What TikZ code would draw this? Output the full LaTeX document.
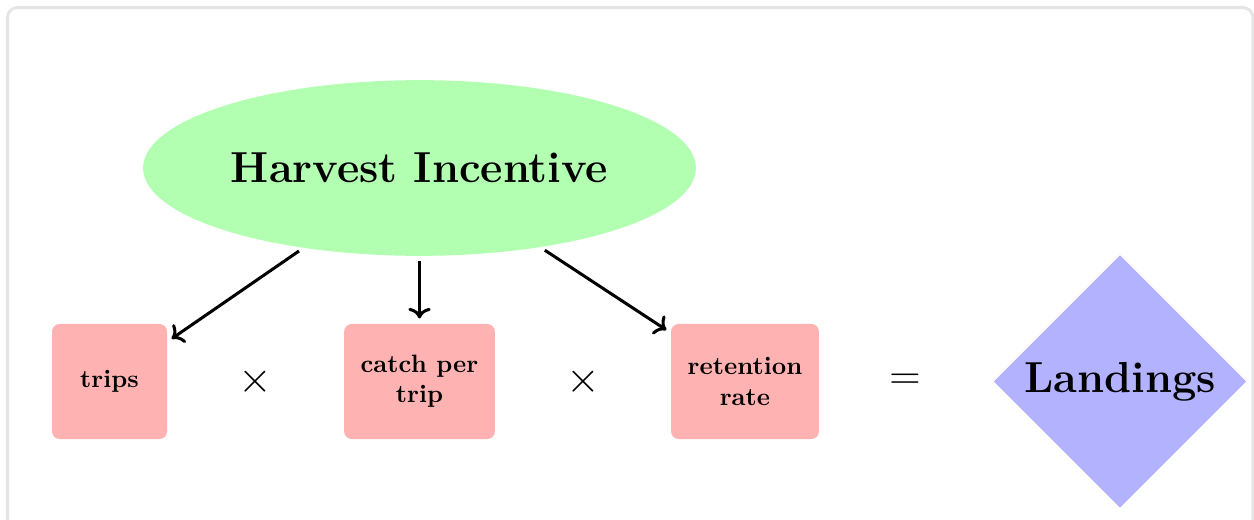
\documentclass[tikz,border=0pt]{standalone}
\usepackage{xcolor}
\usetikzlibrary{arrows.meta,positioning,shapes.geometric}

\begin{document}
\begin{tikzpicture}[
  source/.style={ellipse,fill=green!30,inner sep=0pt,
    minimum width=7.74cm,minimum height=2.46cm,font=\LARGE\bfseries},
  factor/.style={fill=red!30,rounded corners=3pt,inner sep=0pt,
    minimum height=1.61cm,align=center,font=\bfseries},
  result/.style={diamond,fill=blue!30,inner sep=0pt,
    minimum width=3.54cm,minimum height=3.54cm,font=\LARGE\bfseries},
  op/.style={font=\LARGE},
  arr/.style={->,very thick,black,shorten >=2pt,shorten <=2pt}
]
  \useasboundingbox (0,0) rectangle (17.556,-7.28);
  \draw[black!10,line width=1.2pt,rounded corners=4pt]
    (0.105,-0.105) rectangle (17.54,-7.6);

  \node[source] (incent) at (5.873,-2.352) {Harvest Incentive};

  \node[factor,minimum width=1.61cm] (trips) at (1.533,-5.341) {trips};
  \node[op] (times1) at (3.57,-5.341) {$\times$};
  \node[factor,minimum width=2.11cm] (cpt) at (5.873,-5.341)
    {catch per\\trip};
  \node[op] (times2) at (8.162,-5.341) {$\times$};
  \node[factor,minimum width=2.07cm] (ret) at (10.43,-5.341)
    {retention\\rate};
  \node[op] (eq) at (12.67,-5.341) {$=$};
  \node[result] (land) at (15.68,-5.341) {Landings};

  \draw[arr] (incent) -- (trips);
  \draw[arr] (incent) -- (cpt);
  \draw[arr] (incent) -- (ret);
\end{tikzpicture}
\end{document}
